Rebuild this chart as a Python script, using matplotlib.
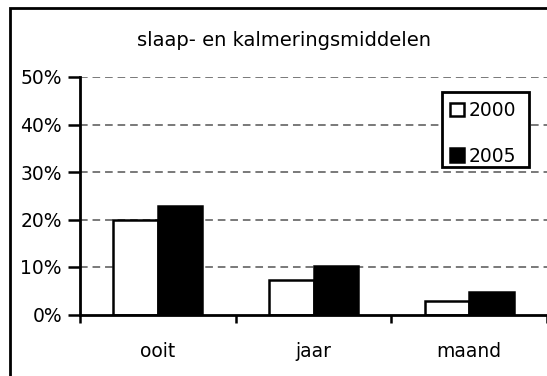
import matplotlib
matplotlib.use("Agg")
import matplotlib.pyplot as plt
from matplotlib.patches import Rectangle
from matplotlib.ticker import FixedLocator, FuncFormatter
import numpy as np

plt.rcParams['font.family'] = ['DejaVu Sans']

title = "slaap- en kalmeringsmiddelen"
categories = ["ooit", "jaar", "maand"]
series_names = ["2000", "2005"]
values_2000 = [19.9, 7.3, 2.9]
values_2005 = [22.8, 10.3, 4.8]
y_ticks = [0, 10, 20, 30, 40, 50]

W, H = 547, 376
fig = plt.figure(figsize=(W / 100, H / 100), dpi=100)


def fx(px):
    return px / W


def fy(py):
    return 1 - py / H


left_px, right_px = 80, 547
top_px, bottom_px = 77, 314.5
ax = fig.add_axes([fx(left_px), fy(bottom_px),
                   (right_px - left_px) / W, (bottom_px - top_px) / H])

x = np.arange(len(categories))
bw = 0.286
ax.bar(x - bw / 2, values_2000, bw, color="white", edgecolor="black",
       linewidth=1.8, label=series_names[0], zorder=3)
ax.bar(x + bw / 2, values_2005, bw, color="black", edgecolor="black",
       linewidth=1.8, label=series_names[1], zorder=3)

ax.set_xlim(-0.5, len(categories) - 0.5)
ax.set_ylim(0, 50)

ax.set_yticks(y_ticks)
ax.yaxis.set_major_formatter(FuncFormatter(lambda v, p: f"{int(v)}%"))
for yv in y_ticks[1:]:
    ax.axhline(yv, color="#555555", linewidth=1.1, linestyle=(0, (5, 3.2)),
               zorder=1)

# category boundary ticks, labels centred in between
ax.xaxis.set_major_locator(FixedLocator(np.arange(-0.5, len(categories), 1.0)))
ax.xaxis.set_major_formatter(FuncFormatter(lambda v, p: ""))
ax.xaxis.set_minor_locator(FixedLocator(x))
ax.set_xticklabels(categories, minor=True)
ax.tick_params(axis="x", which="minor", length=0, pad=20, labelsize=13.5)
ax.tick_params(axis="x", which="major", direction="out", length=6,
               width=1.8, color="black")
ax.tick_params(axis="y", direction="out", length=9, width=1.8,
               pad=4, labelsize=13.5, colors="black")

for s in ["top", "right"]:
    ax.spines[s].set_visible(False)
for s in ["left", "bottom"]:
    ax.spines[s].set_linewidth(2)
    ax.spines[s].set_color("black")
    ax.spines[s].set_zorder(4)

# legend entries without their own frame; the box is drawn separately
leg = fig.legend(loc="upper left", bbox_to_anchor=(fx(450), fy(101)),
                 bbox_transform=fig.transFigure,
                 fontsize=13.5, frameon=False, borderpad=0,
                 handlelength=0.75, handleheight=0.75, handletextpad=0.25,
                 labelspacing=1.42, borderaxespad=0)
for h in leg.legend_handles:
    h.set_linewidth(1.8)
fig.patches.append(Rectangle((fx(442), fy(167)), (529 - 442) / W, (167 - 92) / H,
                             transform=fig.transFigure, facecolor="white",
                             edgecolor="black", linewidth=2, zorder=5))
leg.set_zorder(6)

fig.text(fx(284), fy(41), title, ha="center", va="center", fontsize=14)

# outer chart frame (continues past the right and bottom edges)
fig.patches.append(Rectangle((fx(10), -0.5), 2, 0.5 + fy(8),
                             transform=fig.transFigure, fill=False,
                             edgecolor="black", linewidth=2))

fig.savefig("out.png", dpi=100, facecolor="white")
